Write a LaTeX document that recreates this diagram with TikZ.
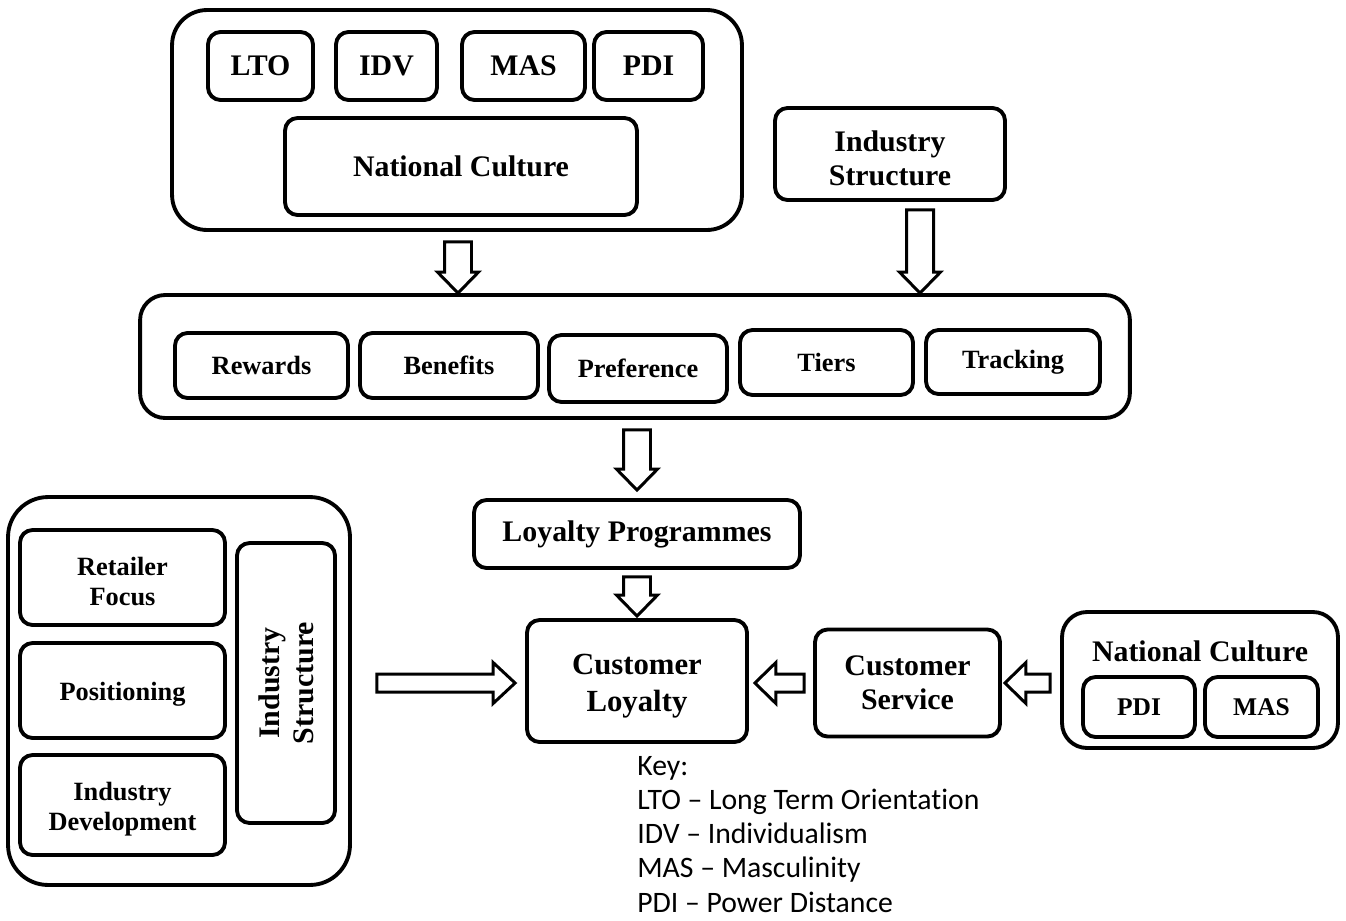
\documentclass[tikz,border=0pt]{standalone}
\usepackage{fontspec}
\setmainfont{Liberation Serif}
\newfontfamily\keyfont[Ligatures=NoCommon]{Carlito}
\usetikzlibrary{calc, positioning}

% hollow block arrow: from, to, shaft half width, head half width, head length
\newcommand{\hollowarrow}[5]{%
  \coordinate (hb) at ($(#2)!#5!(#1)$);
  \draw[blockarrow] ($(#1)!#3!90:(#2)$) -- ($(hb)!#3!90:(#2)$) -- ($(hb)!#4!90:(#2)$)
    -- (#2) -- ($(hb)!#4!-90:(#2)$) -- ($(hb)!#3!-90:(#2)$) -- ($(#1)!#3!-90:(#2)$) -- cycle;}
% pushes two-line texts a little down, as in the original
\newcommand{\lowstrut}{\rule{0pt}{1.0em}}

\tikzset{
  box/.style={draw, line width=2.2pt, rounded corners=0.25cm, align=center,
              inner sep=0pt, font=\fontsize{15}{17}\selectfont\bfseries},
  outerbox/.style={draw, line width=2.2pt, inner sep=0pt},
  bigtext/.style={font=\fontsize{17}{19.5}\selectfont\bfseries},
  lowtext/.style={execute at begin node={\rule{0pt}{0.95em}}},
  keytext/.style={font=\keyfont\fontsize{16.9}{19.5}\selectfont, inner sep=0pt},
  blockarrow/.style={draw, line width=1.7pt, line join=miter, fill=white},
}

\begin{document}
\begin{tikzpicture}[x=0.02cm, y=-0.02cm]
  \useasboundingbox (0,0) rectangle (1346,920);

  % National culture, top
  \node[outerbox, rounded corners=0.7cm, minimum width=11.4cm, minimum height=4.4cm] (ncbox) at (457,120) {};
  \node[box, bigtext, minimum width=2.1cm,  minimum height=1.36cm] (lto) at (260.5,66) {LTO};
  \node[box, bigtext, minimum width=2.02cm, minimum height=1.36cm] (idv) at (386.5,66) {IDV};
  \node[box, bigtext, minimum width=2.46cm, minimum height=1.36cm] (mas) at (523.5,66) {MAS};
  \node[box, bigtext, minimum width=2.18cm, minimum height=1.36cm] (pdi) at (648.5,66) {PDI};
  \node[box, bigtext, minimum width=7.04cm, minimum height=1.94cm] (nc)  at (461,166.5) {National Culture};

  % Industry structure, top
  \node[box, bigtext, minimum width=4.6cm, minimum height=1.84cm] (isbox) at (890,154) {\lowstrut Industry\\Structure};

  % Programme elements
  \node[outerbox, rounded corners=0.5cm, minimum width=19.8cm, minimum height=2.46cm] (prog) at (635,356.5) {};
  \node[box, minimum width=3.46cm, minimum height=1.3cm]  (rew)   at (261.5,365.5) {Rewards};
  \node[box, minimum width=3.56cm, minimum height=1.3cm]  (ben)   at (449,365.5)   {Benefits};
  \node[box, minimum width=3.56cm, minimum height=1.34cm] (pref)  at (638,368.5)   {Preference};
  \node[box, minimum width=3.46cm, minimum height=1.3cm]  (tiers) at (826.5,362.5) {Tiers};
  \node[box, minimum width=3.48cm, minimum height=1.28cm] (track) at (1013,362)    {Tracking};

  % Centre column
  \node[box, bigtext, minimum width=6.52cm, minimum height=1.36cm] (lp) at (637,534) {Loyalty Programmes};
  \node[box, font=\fontsize{17.5}{21.5}\selectfont\bfseries, minimum width=4.4cm, minimum height=2.44cm] (cl) at (637,681) {\lowstrut Customer\\Loyalty};
  \node[box, bigtext, minimum width=3.7cm, minimum height=2.14cm] (cs) at (907.5,683) {Customer\\Service};

  % National culture, right
  \node[outerbox, rounded corners=0.5cm, minimum width=5.52cm, minimum height=2.72cm] (ncr) at (1200,680) {};
  \node[bigtext, inner sep=0pt] (ncrlabel) at (1200,651) {National Culture};
  \node[box, font=\fontsize{14.5}{17}\selectfont\bfseries, minimum width=2.24cm, minimum height=1.2cm] (pdir) at (1139,707)   {PDI};
  \node[box, font=\fontsize{14.5}{17}\selectfont\bfseries, minimum width=2.26cm, minimum height=1.2cm] (masr) at (1261.5,707) {MAS};

  % Industry structure, left
  \node[outerbox, rounded corners=0.8cm, minimum width=6.84cm, minimum height=7.76cm] (isleft) at (179,691) {};
  \node[box, minimum width=4.1cm, minimum height=1.9cm] (rf)  at (122.5,577.5) {\lowstrut Retailer\\Focus};
  \node[box, lowtext, minimum width=4.1cm, minimum height=1.9cm] (pos) at (122.5,690.5) {Positioning};
  \node[box, minimum width=4.1cm, minimum height=2cm]   (idev) at (122.5,805)  {\lowstrut Industry\\Development};
  \node[box, bigtext, rotate=90, minimum width=5.6cm, minimum height=1.96cm] (isv) at (286,683) {Industry\\Structure};

  % Arrows
  \coordinate (a1s) at ($(ncbox.south)+(1,10)$);
  \coordinate (a1e) at (a1s |- prog.north);
  \hollowarrow{a1s}{a1e}{0.27cm}{0.41cm}{0.42cm}
  \coordinate (a2s) at ($(isbox.south)+(30,8)$);
  \coordinate (a2e) at (a2s |- prog.north);
  \hollowarrow{a2s}{a2e}{0.27cm}{0.41cm}{0.42cm}
  \coordinate (a3s) at ($(lp.north |- prog.south)+(0,10)$);
  \coordinate (a3e) at ($(lp.north)+(0,-8)$);
  \hollowarrow{a3s}{a3e}{0.27cm}{0.41cm}{0.42cm}
  \coordinate (a4s) at ($(lp.south)+(0,7)$);
  \coordinate (a4e) at ($(cl.north)+(0,-2)$);
  \hollowarrow{a4s}{a4e}{0.27cm}{0.41cm}{0.42cm}
  \coordinate (a5s) at ($(isleft.east |- cl.west)+(25,2)$);
  \coordinate (a5e) at ($(cl.west)+(-10,2)$);
  \hollowarrow{a5s}{a5e}{0.18cm}{0.41cm}{0.44cm}
  \coordinate (a6s) at ($(cs.west |- cl.west)+(-9,2)$);
  \coordinate (a6e) at ($(cl.east)+(6,2)$);
  \hollowarrow{a6s}{a6e}{0.18cm}{0.41cm}{0.42cm}
  \coordinate (a7s) at ($(ncr.west |- cl.west)+(-10,2)$);
  \coordinate (a7e) at ($(cs.east |- cl.east)+(3,2)$);
  \hollowarrow{a7s}{a7e}{0.18cm}{0.41cm}{0.42cm}

  % Key
  \foreach \txt [count=\i from 0] in {Key:, LTO – Long Term Orientation, IDV – Individualism,
                                     MAS – Masculinity, PDI – Power Distance}
    \node[keytext, anchor=base west] (key\i) at (637, 775+34.3*\i) {\txt};
\end{tikzpicture}
\end{document}
